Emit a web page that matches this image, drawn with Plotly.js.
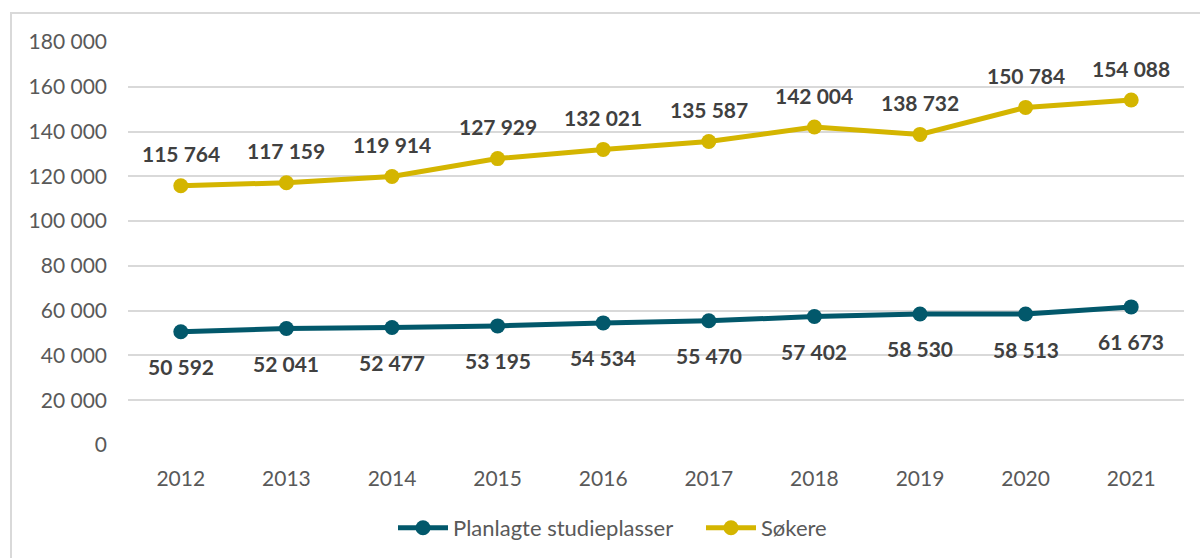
<!DOCTYPE html>
<html>
<head>
<meta charset="utf-8">
<script src="https://cdn.plot.ly/plotly-3.0.1.min.js"></script>
<style>
  html, body { margin: 0; padding: 0; background: #fff; overflow: hidden; }
  #frame { position: absolute; left: 10px; top: 12px; width: 1300px; height: 700px;
           border-left: 2px solid #d9d9d9; border-top: 2px solid #d9d9d9; }
  #chart { position: absolute; left: 0; top: 0; width: 1200px; height: 558px; }
</style>
</head>
<body>
<div id="frame"></div>
<div id="chart"></div>
<script>
const years = ["2012","2013","2014","2015","2016","2017","2018","2019","2020","2021"];
const planlagte = [50592, 52041, 52477, 53195, 54534, 55470, 57402, 58530, 58513, 61673];
const sokere = [115764, 117159, 119914, 127929, 132021, 135587, 142004, 138732, 150784, 154088];
const yTicks = [0, 20000, 40000, 60000, 80000, 100000, 120000, 140000, 160000, 180000];

function fmt(v) { return String(v).replace(/\B(?=(\d{3})+(?!\d))/g, " "); }

const teal = "#02586B";
const gold = "#D4B500";

const traces = [
  {
    x: years, y: planlagte, name: "Planlagte studieplasser", type: "scatter",
    mode: "lines+markers",
    line: { color: teal, width: 5 },
    marker: { color: teal, size: 15 },
    hoverinfo: "skip", cliponaxis: false
  },
  {
    x: years, y: sokere, name: "Søkere", type: "scatter",
    mode: "lines+markers",
    line: { color: gold, width: 5 },
    marker: { color: gold, size: 15 },
    hoverinfo: "skip", cliponaxis: false
  }
];

const labelFont = { family: "Lato", size: 21, color: "#404040", weight: 700 };
const annotations = [];
years.forEach((yr, i) => {
  annotations.push({ x: i, y: sokere[i], text: fmt(sokere[i]), showarrow: false,
    yshift: 32, font: labelFont, xref: "x", yref: "y" });
  annotations.push({ x: i, y: planlagte[i], text: fmt(planlagte[i]), showarrow: false,
    yshift: -35, font: labelFont, xref: "x", yref: "y" });
});

const layout = {
  width: 1200, height: 558,
  margin: { l: 128, r: 16, t: 42, b: 113 },
  paper_bgcolor: "rgba(0,0,0,0)", plot_bgcolor: "rgba(0,0,0,0)",
  font: { family: "Lato", size: 20, color: "#595959" },
  showlegend: true,
  annotations: annotations,
  xaxis: {
    type: "category", range: [-0.5, 9.5], showgrid: false, zeroline: false,
    showline: false, ticks: "", ticklabelstandoff: 19,
    tickfont: { family: "Lato", size: 21, color: "#595959" }
  },
  yaxis: {
    range: [0, 180000], tickvals: yTicks, ticktext: yTicks.map(fmt),
    showgrid: true, gridcolor: "#d9d9d9", gridwidth: 2, zeroline: false,
    showline: false, ticks: "", ticklabelstandoff: 20,
    tickfont: { family: "Lato", size: 21, color: "#595959" }
  },
  legend: {
    orientation: "h", xref: "container", yref: "container",
    x: 393 / 1200, xanchor: "left", y: 30 / 558, yanchor: "middle",
    font: { family: "Lato", size: 22, color: "#595959" },
    bgcolor: "rgba(0,0,0,0)", itemwidth: 50, entrywidth: 243
  }
};

Plotly.newPlot("chart", traces, layout, { displayModeBar: false, staticPlot: true });
</script>
</body>
</html>
